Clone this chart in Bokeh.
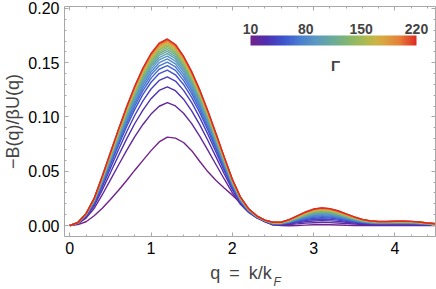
from bokeh.plotting import figure
from bokeh.models import (Range1d, LinearAxis, NumeralTickFormatter, SingleIntervalTicker, FixedTicker,
                          ColorBar, LinearColorMapper, Label, ColumnDataSource, Title)
from bokeh.transform import linear_cmap
from bokeh.embed import file_html
from bokeh.resources import INLINE

# ---------------- data ----------------
q = [0.0, 0.1, 0.2, 0.3, 0.4, 0.5, 0.6, 0.7, 0.8, 0.9, 1.0, 1.1, 1.2, 1.3, 1.4, 1.5,
     1.6, 1.7, 1.8, 1.9, 2.0, 2.1, 2.2, 2.3, 2.4, 2.5, 2.6, 2.7, 2.8, 2.9, 3.0, 3.1,
     3.2, 3.3, 3.4, 3.5, 3.6, 3.7, 3.8, 3.9, 4.0, 4.1, 4.2, 4.3, 4.4, 4.5]

gammas = [10, 20, 30, 40, 50, 60, 70, 80, 90, 100, 110, 120, 130, 140, 150, 160,
          170, 180, 190, 200, 210, 220]

g010 = [0, .0008, .0035, .0090, .0160, .0240, .0325, .0415, .0510, .0600, .0690, .0770, .0815, .0805, .0765, .0690,
        .0590, .0495, .0415, .0345, .0280, .0210, .0140, .0080, .0035, .0010, .0000, -.0002, .0000, .0004, .0007, .0008,
        .0007, .0005, .0002, .0000, -.0001, -.0001, .0000, .0000, .0001, .0001, .0001, .0000, .0000, .0000]
g020 = [0, .0017, .0068, .0157, .0284, .0421, .0558, .0692, .0819, .0931, .1027, .1099, .1132, .1102, .1034, .0939,
        .0821, .0693, .0560, .0429, .0303, .0196, .0121, .0070, .0036, .0005, .0005, .0009, .0015, .0022, .0026, .0028,
        .0027, .0023, .0019, .0014, .0010, .0007, .0006, .0006, .0007, .0007, .0007, .0006, .0004, .0003]
g030 = [0, .0020, .0079, .0181, .0329, .0487, .0645, .0798, .0940, .1064, .1169, .1245, .1278, .1242, .1164, .1057,
        .0928, .0783, .0630, .0477, .0330, .0208, .0126, .0073, .0039, .0008, .0008, .0015, .0025, .0035, .0042, .0045,
        .0043, .0038, .0030, .0022, .0016, .0012, .0010, .0010, .0011, .0011, .0010, .0009, .0007, .0005]
g040 = [0, .0022, .0086, .0197, .0358, .0529, .0700, .0864, .1016, .1148, .1258, .1337, .1370, .1331, .1245, .1132,
        .0994, .0840, .0675, .0508, .0347, .0216, .0129, .0075, .0041, .0011, .0011, .0020, .0033, .0046, .0056, .0060,
        .0057, .0050, .0040, .0029, .0021, .0016, .0014, .0014, .0014, .0015, .0014, .0012, .0009, .0006]
g050 = [0, .0023, .0092, .0208, .0379, .0560, .0740, .0912, .1070, .1208, .1320, .1400, .1432, .1389, .1300, .1181,
        .1040, .0878, .0704, .0527, .0356, .0218, .0129, .0075, .0042, .0013, .0013, .0024, .0040, .0055, .0067, .0072,
        .0069, .0060, .0048, .0035, .0025, .0019, .0016, .0016, .0017, .0018, .0017, .0014, .0011, .0008]
g060 = [0, .0024, .0094, .0214, .0390, .0576, .0761, .0938, .1101, .1243, .1358, .1440, .1473, .1429, .1337, .1215,
        .1069, .0903, .0724, .0542, .0366, .0225, .0133, .0077, .0043, .0015, .0015, .0028, .0045, .0063, .0076, .0082,
        .0078, .0068, .0054, .0040, .0029, .0022, .0019, .0019, .0020, .0020, .0019, .0016, .0012, .0009]
g070 = [0, .0025, .0096, .0219, .0399, .0589, .0778, .0959, .1126, .1270, .1389, .1472, .1506, .1461, .1367, .1242,
        .1093, .0924, .0740, .0554, .0374, .0230, .0136, .0079, .0044, .0017, .0017, .0031, .0050, .0070, .0085, .0091,
        .0087, .0076, .0060, .0045, .0032, .0024, .0021, .0021, .0022, .0022, .0021, .0018, .0013, .0009]
g080 = [0, .0025, .0098, .0223, .0406, .0600, .0793, .0978, .1147, .1295, .1415, .1500, .1535, .1489, .1393, .1266,
        .1114, .0941, .0755, .0564, .0381, .0234, .0139, .0080, .0045, .0018, .0018, .0033, .0055, .0076, .0092, .0099,
        .0095, .0083, .0066, .0049, .0035, .0026, .0022, .0022, .0024, .0024, .0023, .0019, .0015, .0010]
g090 = [0, .0025, .0100, .0227, .0413, .0610, .0806, .0994, .1167, .1317, .1439, .1526, .1561, .1515, .1417, .1288,
        .1133, .0957, .0767, .0574, .0388, .0238, .0141, .0082, .0045, .0020, .0020, .0036, .0059, .0082, .0100, .0107,
        .0102, .0089, .0071, .0052, .0037, .0028, .0024, .0024, .0026, .0026, .0025, .0021, .0016, .0011]
g100 = [0, .0026, .0101, .0230, .0419, .0619, .0818, .1009, .1184, .1336, .1461, .1548, .1584, .1537, .1438, .1307,
        .1150, .0971, .0779, .0582, .0394, .0241, .0143, .0083, .0046, .0021, .0021, .0038, .0063, .0087, .0106, .0114,
        .0109, .0095, .0075, .0056, .0040, .0030, .0026, .0026, .0027, .0028, .0027, .0022, .0017, .0012]
g110 = [0, .0026, .0103, .0233, .0425, .0627, .0829, .1022, .1199, .1353, .1479, .1568, .1604, .1556, .1456, .1323,
        .1165, .0984, .0789, .0590, .0398, .0244, .0145, .0084, .0047, .0022, .0022, .0040, .0066, .0092, .0112, .0120,
        .0115, .0100, .0079, .0059, .0042, .0032, .0027, .0027, .0029, .0029, .0028, .0024, .0018, .0013]
g120 = [0, .0026, .0104, .0236, .0429, .0634, .0838, .1033, .1212, .1368, .1496, .1585, .1622, .1574, .1472, .1338,
        .1178, .0995, .0797, .0596, .0403, .0247, .0146, .0085, .0047, .0023, .0023, .0043, .0070, .0097, .0117, .0126,
        .0121, .0105, .0083, .0062, .0044, .0033, .0029, .0029, .0030, .0031, .0029, .0025, .0019, .0013]
g130 = [0, .0027, .0105, .0238, .0434, .0640, .0846, .1043, .1224, .1382, .1510, .1601, .1638, .1589, .1487, .1351,
        .1189, .1004, .0805, .0602, .0407, .0250, .0148, .0086, .0048, .0024, .0024, .0044, .0072, .0101, .0122, .0131,
        .0125, .0109, .0087, .0064, .0046, .0035, .0030, .0030, .0031, .0032, .0031, .0026, .0019, .0014]
g140 = [0, .0027, .0106, .0240, .0437, .0646, .0853, .1052, .1235, .1394, .1523, .1615, .1652, .1603, .1499, .1363,
        .1199, .1013, .0812, .0607, .0410, .0252, .0149, .0087, .0048, .0025, .0025, .0046, .0075, .0104, .0127, .0136,
        .0130, .0113, .0090, .0067, .0048, .0036, .0031, .0031, .0033, .0033, .0032, .0027, .0020, .0014]
g150 = [0, .0027, .0106, .0242, .0441, .0651, .0860, .1060, .1244, .1404, .1534, .1626, .1664, .1615, .1510, .1373,
        .1208, .1020, .0818, .0612, .0413, .0254, .0150, .0087, .0048, .0026, .0026, .0048, .0078, .0108, .0131, .0141,
        .0135, .0118, .0093, .0069, .0049, .0037, .0032, .0032, .0034, .0035, .0033, .0028, .0021, .0015]
g160 = [0, .0027, .0107, .0244, .0443, .0655, .0865, .1067, .1252, .1413, .1545, .1637, .1675, .1625, .1520, .1382,
        .1216, .1027, .0823, .0616, .0416, .0255, .0151, .0088, .0049, .0027, .0027, .0049, .0080, .0111, .0135, .0145,
        .0139, .0121, .0096, .0071, .0051, .0038, .0033, .0033, .0035, .0036, .0034, .0028, .0021, .0015]
g170 = [0, .0027, .0108, .0245, .0446, .0659, .0871, .1073, .1260, .1421, .1554, .1647, .1685, .1635, .1529, .1390,
        .1223, .1033, .0828, .0620, .0419, .0257, .0152, .0088, .0049, .0027, .0027, .0050, .0082, .0114, .0139, .0149,
        .0143, .0124, .0099, .0073, .0052, .0039, .0034, .0034, .0036, .0037, .0035, .0029, .0022, .0016]
g180 = [0, .0028, .0108, .0246, .0448, .0662, .0875, .1079, .1266, .1429, .1562, .1656, .1694, .1644, .1537, .1397,
        .1230, .1039, .0833, .0623, .0421, .0258, .0153, .0089, .0049, .0028, .0028, .0052, .0085, .0117, .0143, .0153,
        .0146, .0128, .0101, .0075, .0054, .0040, .0035, .0035, .0037, .0038, .0036, .0030, .0023, .0016]
g190 = [0, .0028, .0109, .0248, .0451, .0665, .0879, .1084, .1272, .1436, .1569, .1663, .1702, .1651, .1545, .1404,
        .1236, .1044, .0837, .0626, .0423, .0259, .0154, .0089, .0050, .0029, .0029, .0053, .0086, .0120, .0145, .0156,
        .0149, .0130, .0103, .0077, .0055, .0041, .0035, .0035, .0037, .0038, .0036, .0031, .0023, .0016]
g200 = [0, .0028, .0109, .0249, .0452, .0668, .0883, .1089, .1278, .1442, .1576, .1670, .1709, .1658, .1551, .1410,
        .1241, .1048, .0840, .0628, .0425, .0261, .0154, .0090, .0050, .0029, .0029, .0054, .0088, .0122, .0148, .0159,
        .0152, .0133, .0105, .0078, .0056, .0042, .0036, .0036, .0038, .0039, .0037, .0031, .0023, .0017]
g210 = [0, .0028, .0110, .0249, .0454, .0670, .0886, .1093, .1282, .1447, .1581, .1676, .1715, .1664, .1556, .1415,
        .1245, .1052, .0843, .0631, .0426, .0261, .0155, .0090, .0050, .0030, .0030, .0054, .0089, .0124, .0150, .0161,
        .0154, .0134, .0107, .0079, .0056, .0042, .0037, .0037, .0039, .0040, .0038, .0032, .0024, .0017]
g220 = [0, .0028, .0110, .0250, .0455, .0672, .0888, .1095, .1285, .1450, .1585, .1680, .1719, .1668, .1560, .1418,
        .1248, .1054, .0845, .0632, .0427, .0262, .0155, .0090, .0050, .0030, .0030, .0055, .0090, .0125, .0152, .0163,
        .0156, .0136, .0108, .0080, .0057, .0043, .0037, .0037, .0039, .0040, .0038, .0032, .0024, .0017]

curves = [g010, g020, g030, g040, g050, g060, g070, g080, g090, g100, g110,
          g120, g130, g140, g150, g160, g170, g180, g190, g200, g210, g220]

cbar_ticks = [10, 80, 150, 220]

# ---------------- style ----------------
stops = [(0.00, (114, 34, 140)), (0.10, (78, 48, 178)), (0.20, (62, 85, 206)),
         (0.30, (75, 127, 208)), (0.40, (92, 154, 192)), (0.50, (106, 172, 152)),
         (0.60, (136, 183, 106)), (0.70, (176, 186, 80)), (0.75, (201, 181, 72)),
         (0.80, (218, 167, 66)), (0.90, (230, 128, 56)), (1.00, (222, 42, 37))]


def rainbow(n=256):
    out = []
    for i in range(n):
        t = i / (n - 1)
        for (t0, c0), (t1, c1) in zip(stops[:-1], stops[1:]):
            if t0 <= t <= t1:
                f = (t - t0) / (t1 - t0)
                rgb = [round(a + (b - a) * f) for a, b in zip(c0, c1)]
                out.append("#%02x%02x%02x" % tuple(rgb))
                break
    return out


palette = rainbow()
FONT = "Liberation Sans"
GRAY = "#a8a8a8"

# frame spans x 63..435, y 6..236
p = figure(width=436, height=289, x_range=Range1d(-0.065, 4.5), y_range=Range1d(-0.0101, 0.2018),
           output_backend="svg", toolbar_location=None, title=None,
           min_border_left=63, min_border_right=1, min_border_top=6, min_border_bottom=53)
p.outline_line_color = None
p.xgrid.visible = False
p.ygrid.visible = False
p.background_fill_color = "white"
p.border_fill_color = "white"

xa = p.below[0]
ya = p.left[0]

src = ColumnDataSource(dict(xs=[q] * len(curves), ys=curves, gamma=gammas))
p.multi_line("xs", "ys", source=src, line_width=1.4,
             line_color=linear_cmap("gamma", palette, gammas[0], gammas[-1]))

top_ax = LinearAxis()
right_ax = LinearAxis()
p.add_layout(top_ax, "above")
p.add_layout(right_ax, "right")

for ax in [xa, top_ax]:
    ax.ticker = SingleIntervalTicker(interval=1, num_minor_ticks=5)
for ax in [ya, right_ax]:
    ax.ticker = SingleIntervalTicker(interval=0.05, num_minor_ticks=5)
    ax.formatter = NumeralTickFormatter(format="0.00")

for ax in [xa, ya, top_ax, right_ax]:
    ax.axis_line_color = GRAY
    ax.major_tick_line_color = GRAY
    ax.minor_tick_line_color = GRAY
    ax.major_tick_in = 4
    ax.major_tick_out = 0
    ax.minor_tick_in = 2
    ax.minor_tick_out = 0
    ax.major_label_text_font = FONT
    ax.major_label_text_font_size = "16px"
    ax.major_label_text_color = "black"

for ax in [top_ax, right_ax]:
    ax.major_label_text_font_size = "0px"
    ax.major_label_text_color = None
    ax.major_label_standoff = 0

xa.major_label_standoff = 5
ya.major_label_standoff = 5
ya.axis_label = "\u2212B(q)/\u03b2U(q)"
ya.axis_label_text_font = FONT
ya.axis_label_text_font_size = "18px"
ya.axis_label_text_font_style = "normal"
ya.axis_label_standoff = 2

# x title  q = k/k_F : main part as the axis title, subscript F as a small title below it
xa.axis_label = "q\u2002=\u2002k/k\u2002\u2002"
xa.axis_label_text_font = FONT
xa.axis_label_text_font_size = "18px"
xa.axis_label_text_font_style = "normal"
xa.axis_label_standoff = 6

sub = Title(text="F", text_font=FONT, text_font_size="12px", text_font_style="italic",
            align="left", offset=209, vertical_align="top", standoff=-21)
p.add_layout(sub, "below")

# colour bar
mapper = LinearColorMapper(palette=palette, low=gammas[0], high=gammas[-1])
cb_left, cb_len = 186, 166
cb = ColorBar(color_mapper=mapper, orientation="horizontal", width=cb_len, height=10,
              location=(cb_left, 191), padding=0, margin=0, title=None,
              ticker=FixedTicker(ticks=[]),
              major_tick_line_color=None, minor_tick_line_color=None,
              bar_line_color=None, border_line_color=None, background_fill_alpha=0)
p.add_layout(cb)

for t in cbar_ticks:
    xs = cb_left + (t - gammas[0]) / (gammas[-1] - gammas[0]) * cb_len
    p.add_layout(Label(x=xs, y=208, x_units="screen", y_units="screen", text=str(t),
                       text_font=FONT, text_font_size="14px", text_font_style="bold",
                       text_align="center", text_baseline="alphabetic"))
p.add_layout(Label(x=cb_left + cb_len / 2 + 2, y=171, x_units="screen", y_units="screen",
                   text="\u0393", text_font=FONT, text_font_size="15px", text_font_style="bold",
                   text_align="center", text_baseline="alphabetic"))

open("out.html", "w").write(file_html(p, INLINE))
